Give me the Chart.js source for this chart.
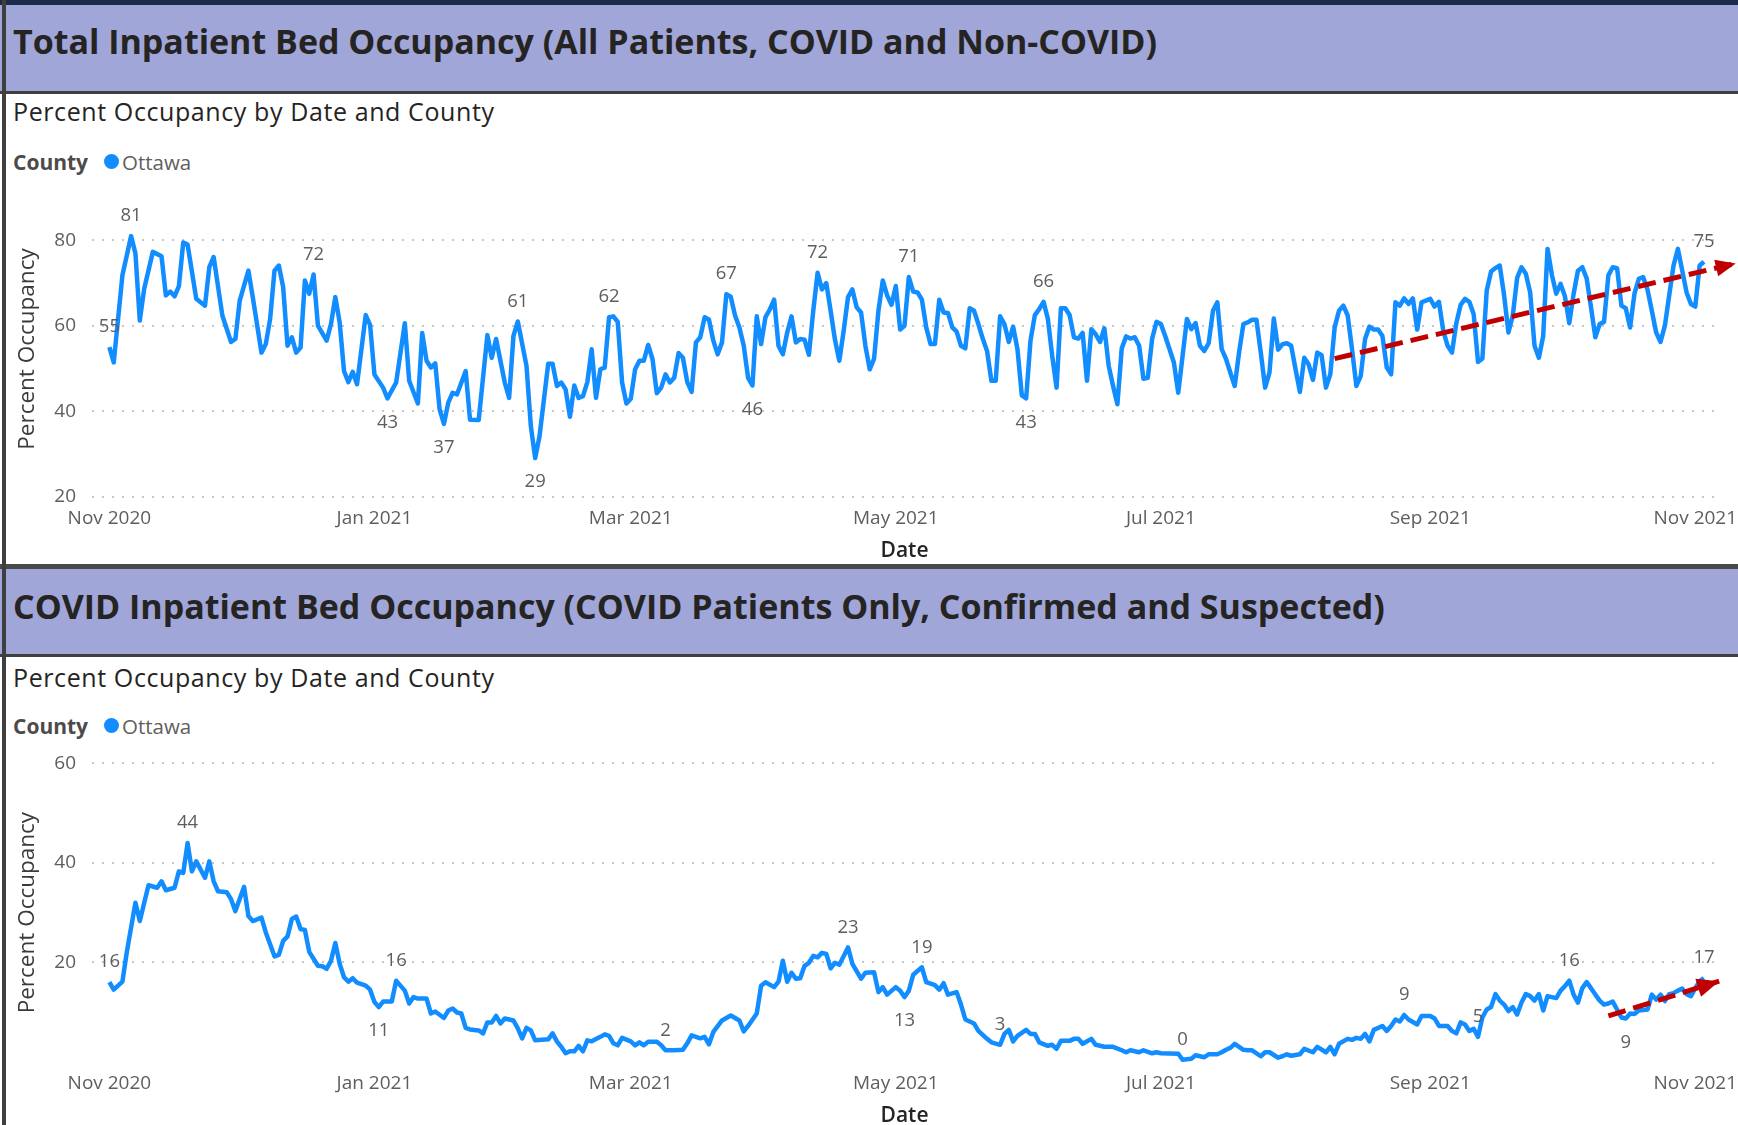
<!DOCTYPE html>
<html>
<head>
<meta charset="utf-8">
<title>Inpatient Bed Occupancy - Ottawa</title>
<script src="https://cdn.jsdelivr.net/npm/chart.js@4.4.1/dist/chart.umd.min.js"></script>
<style>
  html, body { margin: 0; padding: 0; background: #fff; }
  body { width: 1738px; height: 1125px; position: relative; overflow: hidden; font-family: "Open Sans", sans-serif; color: #252423; }
  .abs { position: absolute; }
  .band { left: 0; width: 1738px; background: #A0A6D8; }
  .rule { left: 0; width: 1738px; background: #3F3F3F; }
  .hdr { left: 13px; font-weight: 700; font-size: 34px; line-height: 40px; white-space: nowrap; color: #252423; }
  .sub { left: 13px; font-size: 25px; letter-spacing: 0.6px; line-height: 30px; white-space: nowrap; color: #252423; }
  .leg { left: 13px; font-size: 20.5px; line-height: 26px; white-space: nowrap; color: #605E5C; }
  .leg b { position: absolute; left: 0; top: 0; font-size: 21px; color: #4D4B49; }
  .leg .dot { position: absolute; left: 91px; top: 5px; width: 15px; height: 15px; border-radius: 50%; background: #118DFF; }
  .leg .name { position: absolute; left: 109px; top: 0; }
  canvas { position: absolute; left: 0; }
</style>
</head>
<body>
<div class="abs rule" style="top:0;height:5px;background:#1D2A4A"></div>
<div class="abs band" style="top:5px;height:86px"></div>
<div class="abs rule" style="top:91px;height:3px"></div>
<div class="abs hdr" style="top:21px">Total Inpatient Bed Occupancy (All Patients, COVID and Non-COVID)</div>
<div class="abs sub" style="top:96px">Percent Occupancy by Date and County</div>
<div class="abs leg" style="top:149px;width:200px;height:26px"><b>County</b><span class="dot"></span><span class="name">Ottawa</span></div>
<canvas id="totalChart" width="1738" height="384" style="top:180px"></canvas>

<div class="abs rule" style="top:564px;height:5px;background:#4A4A4A"></div>
<div class="abs band" style="top:569px;height:85px"></div>
<div class="abs rule" style="top:654px;height:3px"></div>
<div class="abs hdr" style="top:586px">COVID Inpatient Bed Occupancy (COVID Patients Only, Confirmed and Suspected)</div>
<div class="abs sub" style="top:662px">Percent Occupancy by Date and County</div>
<div class="abs leg" style="top:713px;width:200px;height:26px"><b>County</b><span class="dot"></span><span class="name">Ottawa</span></div>
<canvas id="covidChart" width="1738" height="439" style="top:690px"></canvas>

<div class="abs" style="left:2px;top:0;width:4px;height:1125px;background:#3F3F3F"></div>

<script>
// x values are days counted from 1 Nov 2020
const dateTickDays = [0, 61, 120, 181, 242, 304, 365];
const dateTickLabels = ['Nov 2020', 'Jan 2021', 'Mar 2021', 'May 2021', 'Jul 2021', 'Sep 2021', 'Nov 2021'];

const totalYTicks = [20, 40, 60, 80];
const covidYTicks = [20, 40, 60];

// total inpatient occupancy, Ottawa (%)
const totalDays = [
  0, 1, 3, 5, 6, 7, 8, 10, 12, 13, 14, 15, 16, 17, 18, 20, 22, 23, 24, 26,
  28, 29, 30, 32, 33, 35, 36, 37, 38, 39, 40, 41, 42, 43, 44, 45, 46, 47, 48, 50,
  51, 52, 53, 54, 55, 56, 57, 59, 60, 61, 63, 64, 66, 68, 69, 71, 72, 73, 74, 75,
  76, 77, 78, 79, 80, 82, 83, 85, 87, 88, 89, 91, 92, 93, 94, 96, 97, 98, 99, 101,
  102, 103, 104, 105, 106, 107, 108, 109, 110, 111, 112, 113, 114, 115, 116, 117, 118, 119, 120, 121,
  122, 123, 124, 125, 126, 127, 128, 129, 130, 131, 132, 133, 134, 135, 136, 137, 138, 139, 140, 141,
  142, 143, 144, 145, 146, 147, 148, 149, 150, 151, 152, 153, 154, 155, 156, 157, 158, 159, 160, 161,
  162, 163, 164, 165, 166, 167, 168, 169, 170, 171, 172, 173, 174, 175, 176, 177, 178, 179, 180, 181,
  182, 183, 184, 185, 186, 187, 188, 189, 190, 191, 192, 193, 194, 195, 196, 197, 198, 199, 200, 201,
  202, 203, 204, 205, 206, 207, 208, 209, 210, 211, 212, 213, 214, 215, 216, 217, 218, 219, 220, 221,
  222, 223, 224, 225, 226, 227, 228, 229, 230, 231, 232, 233, 234, 235, 236, 237, 238, 239, 240, 241,
  242, 243, 245, 246, 247, 248, 249, 250, 251, 252, 253, 254, 255, 256, 257, 258, 259, 260, 261, 262,
  263, 264, 265, 266, 267, 268, 269, 270, 271, 272, 273, 274, 275, 276, 277, 278, 279, 280, 281, 282,
  283, 284, 285, 286, 287, 288, 289, 290, 291, 292, 293, 294, 295, 296, 297, 298, 299, 300, 301, 302,
  303, 304, 305, 306, 307, 308, 309, 310, 311, 312, 313, 314, 315, 316, 317, 318, 319, 320, 321, 322,
  323, 324, 325, 326, 327, 328, 329, 330, 331, 332, 333, 334, 335, 336, 337, 338, 339, 340, 341, 342,
  343, 344, 345, 346, 347, 348, 349, 350, 351, 352, 353, 354, 355, 356, 357, 358, 359, 360, 361, 362,
  363, 364, 365, 366, 367
];
const totalPct = [
  55, 51.4, 71.8, 81, 76.9, 61.2, 68.6, 77.3, 76.3, 67.1, 68, 66.9, 69.3, 79.5, 79, 66.3, 64.7, 73.7, 76.1, 62.4,
  56.2, 56.9, 65.9, 72.9, 66.7, 53.7, 55.7, 61.6, 72.9, 74.1, 69, 55.3, 57.3, 53.7, 54.9, 70.6, 67.5, 72, 60, 56.5,
  60.4, 66.7, 60.8, 49.4, 46.8, 49.2, 46.3, 62.5, 60.2, 48.6, 45.5, 43, 46.7, 60.6, 47.1, 41.8, 58.3, 51.8, 50.2, 51.2,
  40.4, 37, 42, 44.3, 43.9, 49.4, 38, 37.9, 57.8, 52.5, 56.9, 46.7, 43.1, 57.6, 61, 50.6, 36.5, 29, 34.1, 51.1,
  51.1, 45.9, 46.7, 45.1, 38.7, 46, 43.1, 43.5, 46.8, 54.5, 43.1, 49.8, 50.2, 62, 62.2, 60.9, 46.7, 41.8, 42.9, 49.8,
  51.8, 51.8, 55.5, 52.2, 44.2, 45.5, 48.6, 46.7, 47.8, 53.6, 52.5, 46.8, 44.5, 56.1, 57.3, 62, 61.4, 56.5, 53.3, 56.1,
  67.4, 66.8, 62.4, 59.6, 55.3, 47.8, 46, 62.2, 55.7, 62, 63.8, 66.1, 55.3, 53.3, 58.4, 62.2, 56.1, 56.9, 56.7, 53.2,
  63.5, 72.4, 68.5, 70, 63.5, 56.7, 51.8, 58.8, 66.7, 68.5, 64.3, 63.1, 55.3, 49.8, 52.3, 63.5, 70.6, 67.1, 64.9, 69.3,
  59.1, 60, 71.4, 68, 67.8, 66.1, 59.6, 55.7, 55.7, 66.1, 63.1, 63, 59.6, 58.6, 55.3, 54.7, 64.1, 63.5, 60.4, 57,
  54.1, 47.1, 47.1, 62.2, 60.4, 56.2, 59.8, 54.5, 43.7, 43, 56.5, 62.5, 63.9, 65.6, 61.6, 52.9, 45.5, 64.1, 64.1, 62.5,
  57.3, 57, 58.3, 47.1, 59.2, 58, 56.2, 59.4, 50.6, 45.9, 41.6, 54.7, 57.5, 57, 57.3, 55.3, 47.6, 47.8, 57, 60.9,
  60.4, 57.6, 51.4, 44.3, 52.9, 61.6, 59.2, 60.6, 55.3, 54.1, 55.9, 63.5, 65.5, 54.5, 52.2, 49, 45.9, 53.7, 60.4, 60.8,
  61.4, 61.4, 53.7, 45.5, 49, 61.7, 54.4, 55.7, 55.9, 55.3, 49.8, 44.5, 52.5, 51, 47.3, 53.7, 53.1, 45.5, 48.6, 59.6,
  63.5, 64.7, 62.4, 54.5, 45.9, 48.2, 56.9, 59.8, 59.1, 59.1, 57.6, 50.2, 48.6, 65.5, 64.7, 66.4, 65.1, 66.4, 59.1, 65.5,
  65.9, 66.3, 64.5, 65.6, 58.8, 55.3, 53.7, 60.6, 64.9, 66.3, 65.6, 62.7, 51.5, 52.3, 68.2, 72.7, 73.5, 74.1, 67.1, 58.4,
  62.4, 71.2, 73.7, 72.2, 67.8, 55.3, 52.5, 57.6, 78, 71.9, 67.5, 69.8, 66.9, 60.6, 67.5, 72.9, 73.7, 71.1, 64.3, 57.3,
  60.4, 60.9, 71.8, 73.7, 73.5, 64.7, 64.1, 59.6, 67.5, 71, 71.4, 68.5, 63.5, 58.4, 56.2, 60, 67.1, 74.1, 78, 72.9,
  67.8, 65.1, 64.5, 74.1, 75
];
const totalLabelsAbove = [0, 5, 47, 94, 115, 142, 163, 184, 215, 367];
const totalLabelsBelow = [64, 77, 98, 148, 211];
const totalTrendDays = [282, 374.3];
const totalTrendPct = [52.3, 74.6];

// COVID inpatient occupancy, Ottawa (%)
const covidDays = [
  0, 1, 3, 4, 6, 7, 9, 11, 12, 13, 15, 16, 17, 18, 19, 20, 22, 23, 24, 25,
  27, 28, 29, 31, 32, 33, 35, 36, 38, 39, 40, 41, 42, 43, 44, 45, 46, 48, 49, 50,
  51, 52, 53, 54, 55, 56, 57, 59, 60, 61, 62, 63, 65, 66, 68, 69, 70, 71, 73, 74,
  75, 77, 78, 79, 80, 81, 82, 83, 85, 86, 87, 88, 89, 90, 91, 93, 94, 95, 96, 97,
  98, 101, 102, 103, 104, 105, 106, 107, 108, 109, 110, 111, 113, 114, 115, 116, 117, 118, 120, 121,
  122, 123, 124, 126, 127, 128, 130, 132, 133, 134, 136, 137, 138, 139, 141, 142, 143, 144, 145, 146,
  147, 149, 150, 151, 153, 154, 155, 156, 157, 158, 159, 160, 161, 162, 163, 164, 165, 166, 167, 168,
  170, 171, 173, 174, 176, 177, 178, 179, 181, 182, 183, 184, 185, 187, 188, 190, 191, 192, 193, 195,
  196, 197, 199, 200, 202, 203, 205, 206, 207, 208, 209, 211, 212, 213, 214, 216, 217, 218, 219, 221,
  222, 223, 224, 226, 227, 229, 231, 233, 234, 235, 237, 238, 240, 241, 242, 246, 247, 249, 250, 252,
  253, 255, 256, 257, 258, 259, 261, 262, 263, 265, 266, 267, 269, 270, 271, 272, 274, 275, 277, 278,
  280, 281, 282, 283, 285, 286, 287, 288, 289, 290, 291, 293, 294, 295, 296, 297, 298, 299, 301, 302,
  304, 305, 306, 308, 309, 310, 311, 312, 313, 314, 315, 316, 317, 318, 319, 320, 321, 322, 323, 324,
  325, 326, 327, 328, 329, 330, 331, 333, 334, 335, 336, 337, 338, 339, 340, 341, 342, 343, 344, 345,
  346, 347, 348, 349, 350, 351, 352, 354, 355, 356, 357, 358, 359, 360, 361, 362, 363, 364, 365, 366,
  367
];
const covidPct = [
  16, 14.5, 16.1, 22, 32, 28.3, 35.5, 35, 36.3, 34.5, 35, 38.3, 38, 44, 38.3, 40.3, 37, 40.3, 36.3, 34.3,
  34.1, 32.7, 30.3, 35.2, 29.3, 28.3, 29, 26, 21.2, 21.5, 24.3, 25.2, 28.7, 29.2, 26.7, 26.5, 22.1, 19.3, 19.2, 18.7,
  20.3, 23.9, 19.7, 17, 16.1, 16.8, 15.9, 15.3, 14.5, 12, 11, 12.1, 12.1, 16.3, 14.3, 11.7, 13, 12.7, 12.7, 9.7,
  10.1, 8.8, 10.3, 10.7, 9.9, 9.7, 6.8, 6.5, 6.3, 5.7, 7.9, 7.9, 9.2, 7.7, 8.7, 8.3, 6.7, 4.7, 6.8, 6.3,
  4.3, 4.5, 5.7, 4.1, 3, 1.7, 2.1, 2.1, 3.2, 2.1, 4.3, 4.1, 5, 5.5, 5.2, 3.7, 3.3, 4.8, 4.1, 3.3,
  3.9, 3.3, 4, 4, 3.3, 2.3, 2.3, 2.4, 3.7, 5.3, 4.7, 5, 3.5, 6, 8.3, 8.8, 9.3, 8.8, 8.3, 6.1,
  7.2, 9.7, 15.3, 16, 15, 16.1, 20.3, 16.1, 17.9, 16.7, 16.8, 19.3, 19.9, 21.3, 21, 21.9, 21.7, 18.8, 19.9, 19.5,
  23, 19.7, 16.7, 17.9, 18, 14, 15, 13.5, 15, 14.3, 13, 14.3, 17.5, 19, 16, 15.4, 14.5, 15.8, 13.5, 14,
  11.5, 8.5, 7.7, 6.2, 4.6, 3.9, 3.4, 5.6, 6.4, 4.1, 5.2, 6.4, 5.6, 5.6, 3.9, 3.2, 3.4, 2.6, 4.2, 4.2,
  4.6, 4.6, 3.6, 4.6, 3.4, 3, 3, 2.3, 1.9, 2.3, 1.9, 2.3, 1.7, 1.9, 1.7, 1.6, 0.4, 0.6, 1.3, 0.9,
  1.5, 1.5, 1.9, 2.4, 2.8, 3.6, 2.4, 2.3, 2.3, 1.1, 1.9, 1.9, 0.8, 1.1, 1.5, 1.2, 1.5, 2.6, 1.9, 3,
  1.9, 3, 1.5, 3.6, 4.6, 4.4, 4.8, 4.6, 5.6, 4.1, 6.4, 7.2, 6.2, 7.2, 8.5, 8.1, 9.4, 8.5, 7.5, 9.2,
  9.2, 8.7, 7.2, 7.2, 6.2, 5.7, 7.9, 7.5, 6.2, 6.6, 5, 8.9, 10.5, 11, 13.6, 12.3, 11.5, 10.2, 11, 9.5,
  11.9, 13.6, 13.2, 12.3, 13.6, 10.3, 13.2, 12.8, 14.3, 15.2, 16.3, 13.5, 11.9, 14.8, 16, 14.8, 13.5, 12.3, 11.5, 11.7,
  12.1, 10.5, 8.9, 8.7, 9.7, 9.6, 10.3, 10.5, 13.5, 12.5, 13.5, 12.2, 13.6, 13.8, 14.3, 14.7, 13.6, 13.2, 14.8, 16.2,
  16.8
];
const covidLabelsAbove = [0, 18, 66, 128, 170, 187, 205, 247, 298, 315, 336, 367];
const covidLabelsBelow = [62, 183, 349];
const covidTrendDays = [345, 370.5];
const covidTrendPct = [9.2, 16.2];

const tickColor = '#605E5C';

// value labels above / below chosen points of the blue line
const pointLabels = {
  id: 'pointLabels',
  afterDatasetsDraw(chart, args, opts) {
    const ctx = chart.ctx;
    const meta = chart.getDatasetMeta(1);
    const pts = chart.data.datasets[1].data;
    ctx.save();
    ctx.font = '18.5px "Open Sans"';
    ctx.fillStyle = tickColor;
    ctx.textAlign = 'center';
    ctx.textBaseline = 'middle';
    const put = (days, dy) => days.forEach(d => {
      const i = pts.findIndex(p => p.x === d);
      if (i < 0) return;
      const el = meta.data[i];
      ctx.fillText(String(Math.round(pts[i].y)), el.x, el.y + dy);
    });
    put(opts.above || [], -20);
    put(opts.below || [], 24);
    ctx.restore();
  }
};

// filled head at the end of the dashed trend line
const arrowHeads = {
  id: 'arrowHeads',
  afterDatasetsDraw(chart, args, opts) {
    const ctx = chart.ctx;
    const pts = chart.getDatasetMeta(0).data;
    const a = pts[pts.length - 2], b = pts[pts.length - 1];
    const ang = Math.atan2(b.y - a.y, b.x - a.x);
    ctx.save();
    ctx.translate(b.x, b.y);
    ctx.rotate(ang);
    ctx.beginPath();
    ctx.moveTo(0, 0);
    ctx.lineTo(-opts.len, -opts.half);
    ctx.lineTo(-opts.len, opts.half);
    ctx.closePath();
    ctx.fillStyle = '#C00000';
    ctx.fill();
    ctx.restore();
  }
};

function buildChart(id, o) {
  const line = o.days.map((d, i) => ({ x: d, y: o.values[i] }));
  const trend = o.trendDays.map((d, i) => ({ x: d, y: o.trendValues[i] }));
  return new Chart(document.getElementById(id), {
    type: 'line',
    data: {
      datasets: [
        {
          label: 'Trend',
          data: trend,
          borderColor: '#C00000',
          borderWidth: 5,
          borderDash: [18, 8],
          pointRadius: 0,
          clip: false,
          order: 0
        },
        {
          label: 'Ottawa',
          data: line,
          borderColor: '#118DFF',
          borderWidth: 4.5,
          borderJoinStyle: 'round',
          pointRadius: 0,
          tension: 0,
          order: 1
        }
      ]
    },
    options: {
      responsive: false,
      animation: false,
      devicePixelRatio: 1,
      layout: { padding: { top: o.padTop, right: 21, bottom: 0, left: 0 } },
      plugins: {
        legend: { display: false },
        tooltip: { enabled: false },
        pointLabels: { above: o.above, below: o.below },
        arrowHeads: { len: o.arrowLen, half: o.arrowHalf }
      },
      scales: {
        x: {
          type: 'linear',
          min: -4,
          max: 370,
          grid: { display: false },
          border: { display: false },
          afterBuildTicks: axis => { axis.ticks = dateTickDays.map(v => ({ value: v })); },
          afterFit: axis => { axis.height = o.xAxisHeight; axis.paddingLeft = 0; axis.paddingRight = 0; },
          ticks: {
            autoSkip: false,
            maxRotation: 0,
            padding: o.xTickPad,
            color: tickColor,
            font: { family: 'Open Sans', size: 19 },
            callback: (value, index) => dateTickLabels[index]
          },
          title: {
            display: true,
            text: 'Date',
            color: '#252423',
            padding: { top: 0, bottom: 0 },
            font: { family: 'Open Sans', size: 21, weight: '600' }
          }
        },
        y: {
          min: o.yMin,
          max: o.yMax,
          grid: { color: '#C8C6C4', lineWidth: 2, drawTicks: false },
          border: { display: false, dash: [2, 8] },
          afterBuildTicks: axis => { axis.ticks = o.yTicks.map(v => ({ value: v })); },
          afterFit: axis => { axis.width = 92; axis.paddingTop = 0; axis.paddingBottom = 0; },
          ticks: {
            padding: 16,
            color: tickColor,
            font: { family: 'Open Sans', size: 19 }
          },
          title: {
            display: true,
            text: 'Percent Occupancy',
            color: '#3B3A39',
            padding: { top: 14, bottom: 0 },
            font: { family: 'Open Sans', size: 22.5 }
          }
        }
      }
    },
    plugins: [pointLabels, arrowHeads]
  });
}

buildChart('totalChart', {
  days: totalDays, values: totalPct,
  trendDays: totalTrendDays, trendValues: totalTrendPct,
  above: totalLabelsAbove, below: totalLabelsBelow,
  yTicks: totalYTicks, yMin: 20, yMax: 89.1,
  padTop: 21.5, xAxisHeight: 67.5, xTickPad: 2.5,
  arrowLen: 20, arrowHalf: 8.5
});

buildChart('covidChart', {
  days: covidDays, values: covidPct,
  trendDays: covidTrendDays, trendValues: covidTrendPct,
  above: covidLabelsAbove, below: covidLabelsBelow,
  yTicks: covidYTicks, yMin: -0.5, yMax: 60.5,
  padTop: 71, xAxisHeight: 64.8, xTickPad: 0,
  arrowLen: 22, arrowHalf: 9.5
});
</script>
</body>
</html>
